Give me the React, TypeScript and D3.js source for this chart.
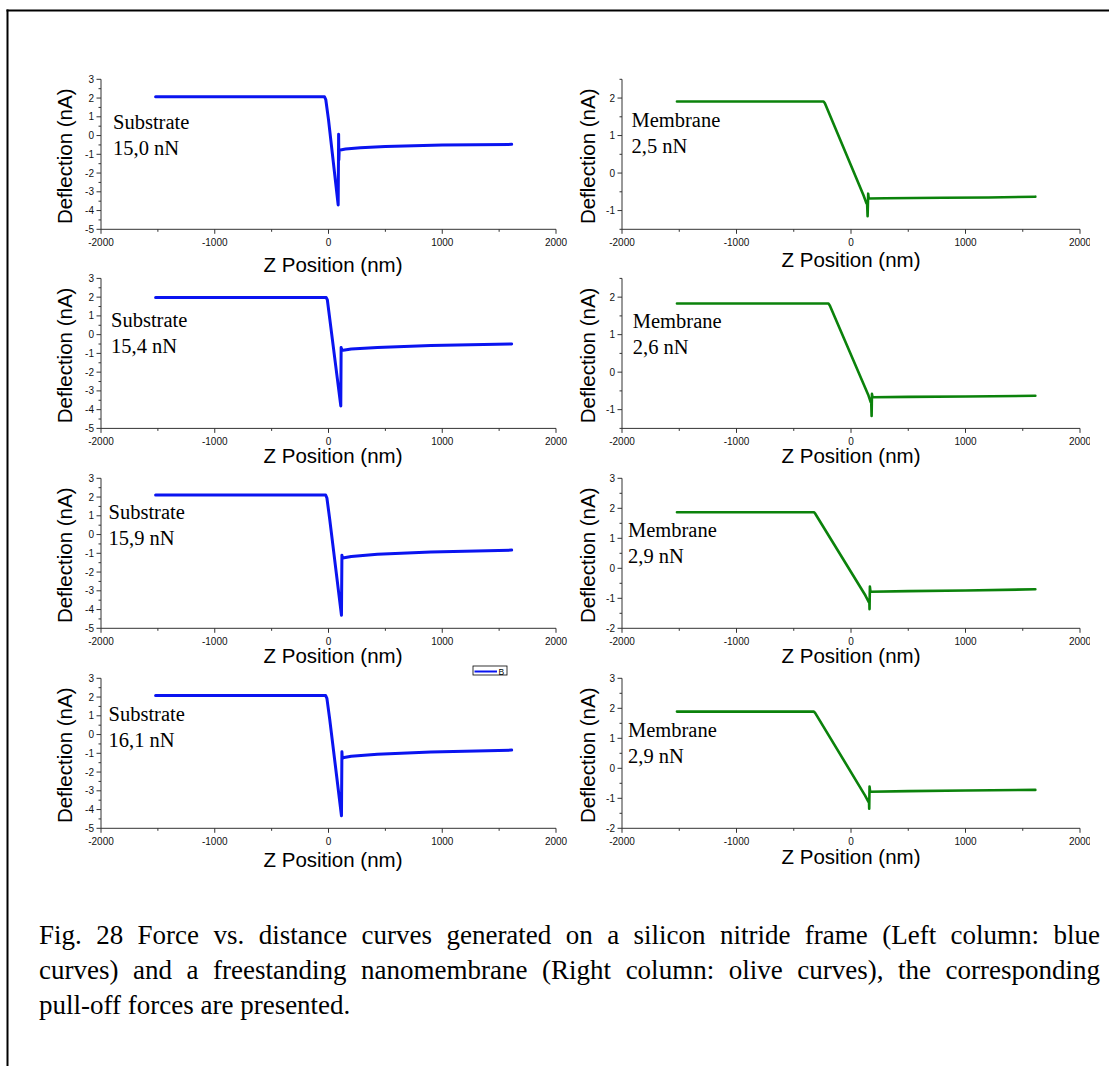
import React, { useLayoutEffect, useRef } from "react";
import * as d3 from "d3";

type Pt = [number, number];

// ---------- data (Z position nm, deflection nA) ----------
const xMajorTicks = [-2000, -1000, 0, 1000, 2000];
const xMinorTicks = [-1500, -500, 500, 1500];
const xDomain: [number, number] = [-2000, 2000];

const substrateYDomain: [number, number] = [-5, 3];
const substrateYTicks = [-5, -4, -3, -2, -1, 0, 1, 2, 3];
const substrateYMinor = [-4.5, -3.5, -2.5, -1.5, -0.5, 0.5, 1.5, 2.5];

const membraneYDomainA: [number, number] = [-1.5, 2.5];
const membraneYTicksA = [-1, 0, 1, 2];
const membraneYMinorA = [-1.5, -0.5, 0.5, 1.5, 2.5];
const membraneYDomainB: [number, number] = [-2, 3];
const membraneYTicksB = [-2, -1, 0, 1, 2, 3];
const membraneYMinorB = [-1.5, -0.5, 0.5, 1.5, 2.5];

const substrateForces = ["15,0 nN", "15,4 nN", "15,9 nN", "16,1 nN"];
const membraneForces = ["2,5 nN", "2,6 nN", "2,9 nN", "2,9 nN"];

const substrate1: Pt[] = [
  [-1520, 2.07], [-600, 2.07], [-35, 2.07], [-24, 1.92], [0, 0.85],
  [85, -3.7], [89, 0.07], [91, -1.3], [94, -0.78], [150, -0.72], [280, -0.65],
  [500, -0.58], [1000, -0.51], [1610, -0.47],
];
const substrate2: Pt[] = [
  [-1520, 1.98], [-600, 1.98], [-20, 1.98], [-10, 1.85], [12, 0.8],
  [108, -3.8], [111, -0.68], [115, -0.85], [200, -0.76], [430, -0.68],
  [900, -0.58], [1610, -0.5],
];
const substrate3: Pt[] = [
  [-1520, 2.11], [-600, 2.11], [-25, 2.11], [-14, 1.95], [10, 0.85],
  [114, -4.31], [118, -1.1], [121, -1.3], [125, -1.25], [200, -1.17],
  [430, -1.05], [900, -0.93], [1610, -0.83],
];
const substrate4: Pt[] = [
  [-1520, 2.08], [-600, 2.08], [-25, 2.08], [-14, 1.93], [10, 0.85],
  [114, -4.33], [118, -0.92], [121, -1.3], [125, -1.24], [200, -1.16],
  [430, -1.05], [900, -0.93], [1610, -0.83],
];

const membrane1: Pt[] = [
  [-1520, 1.91], [-600, 1.91], [-240, 1.91], [-228, 1.86], [110, -0.6],
  [135, -0.81], [140, -0.75], [145, -1.15], [150, -0.55],
  [155, -0.68], [300, -0.67], [800, -0.66], [1200, -0.65], [1610, -0.63],
];
const membrane2: Pt[] = [
  [-1520, 1.83], [-600, 1.83], [-197, 1.83], [-185, 1.78], [150, -0.6],
  [172, -0.8], [176, -0.72], [180, -1.17], [183, -0.58], [188, -0.67],
  [500, -0.66], [1000, -0.65], [1610, -0.63],
];
const membrane3: Pt[] = [
  [-1520, 1.87], [-600, 1.87], [-324, 1.87], [-312, 1.82], [125, -0.9],
  [157, -1.14], [160, -1.05], [162, -1.36], [165, -0.61],
  [170, -0.78], [500, -0.76], [1000, -0.74], [1610, -0.7],
];
const membrane4: Pt[] = [
  [-1520, 1.89], [-600, 1.89], [-324, 1.89], [-312, 1.84], [122, -0.9],
  [154, -1.13], [157, -1.05], [159, -1.35], [162, -0.61],
  [167, -0.78], [500, -0.76], [1000, -0.74], [1610, -0.72],
];

const captionLines = [
  "Fig. 28 Force vs. distance curves generated on a silicon nitride frame (Left column: blue",
  "curves) and a freestanding nanomembrane (Right column: olive curves), the corresponding",
  "pull-off forces are presented.",
];

// ---------- layout ----------
const W = 1109;
const H = 1066;
const rowTops = [79.3, 278.4, 478.3, 678.3];
const rowH = 150;
const leftX: [number, number] = [101, 556];
const rightX: [number, number] = [622, 1080];
const leftTitleY = [272, 463, 662.5, 866.5];
const rightTitleY = [267, 463, 663, 864];
const leftNoteX = [113, 111, 108.5, 108.5];
const leftNoteY = [129, 326.7, 519.3, 721];
const rightNoteX = [631.5, 632.8, 628, 628];
const rightNoteY = [127.3, 328.3, 537.3, 736.7];
const captionX = 39;
const captionRight = 1100;
const captionSize = 27;

const SANS = "'Liberation Sans', Arial, Helvetica, sans-serif";
const SERIF = "'Liberation Serif', 'Times New Roman', Times, serif";
const BLUE = "#0a14f0";
const GREEN = "#0b820b";

interface PanelProps {
  data: Pt[];
  xr: [number, number];
  top: number;
  yDomain: [number, number];
  yTicks: number[];
  yMinor: number[];
  color: string;
  sw: number;
  noteTitle: string;
  noteForce: string;
  noteX: number;
  noteY: number;
  titleY: number;
  titleX: number;
  yTitleX: number;
}

function Panel(p: PanelProps) {
  const x = d3.scaleLinear().domain(xDomain).range(p.xr);
  const y = d3.scaleLinear().domain(p.yDomain).range([p.top + rowH, p.top]);
  const line = d3
    .line<Pt>()
    .x((d) => x(d[0]))
    .y((d) => y(d[1]));
  const x0 = p.xr[0];
  const yb = p.top + rowH;
  const axisColor = "#333";
  const tickFont = 10;
  return (
    <g>
      <line x1={x0} x2={x0} y1={p.top} y2={yb} stroke={axisColor} strokeWidth={1} />
      <line x1={x0} x2={p.xr[1]} y1={yb} y2={yb} stroke={axisColor} strokeWidth={1} />
      {p.yTicks.map((t) => (
        <g key={"yt" + t}>
          <line x1={x0 - 4.5} x2={x0} y1={y(t)} y2={y(t)} stroke={axisColor} strokeWidth={1} />
          <text
            x={x0 - 7}
            y={y(t)}
            dy="0.35em"
            textAnchor="end"
            fontFamily={SANS}
            fontSize={tickFont}
            fill="#111"
          >
            {String(t)}
          </text>
        </g>
      ))}
      {p.yMinor.map((t) => (
        <line key={"ym" + t} x1={x0 - 2.5} x2={x0} y1={y(t)} y2={y(t)} stroke={axisColor} strokeWidth={1} />
      ))}
      {xMajorTicks.map((t) => (
        <g key={"xt" + t}>
          <line x1={x(t)} x2={x(t)} y1={yb} y2={yb + 4.5} stroke={axisColor} strokeWidth={1} />
          <text
            x={x(t)}
            y={yb + 16.5}
            textAnchor="middle"
            fontFamily={SANS}
            fontSize={tickFont}
            fill="#111"
          >
            {String(t)}
          </text>
        </g>
      ))}
      {xMinorTicks.map((t) => (
        <line key={"xm" + t} x1={x(t)} x2={x(t)} y1={yb} y2={yb + 2.5} stroke={axisColor} strokeWidth={1} />
      ))}
      <text
        x={p.titleX}
        y={p.titleY}
        textAnchor="middle"
        fontFamily={SANS}
        fontSize={20.5}
        fill="#000"
      >
        Z Position (nm)
      </text>
      <text
        transform={`translate(${p.yTitleX},${p.top + rowH / 2 + 2}) rotate(-90)`}
        textAnchor="middle"
        dy="0.35em"
        fontFamily={SANS}
        fontSize={20.5}
        fill="#000"
      >
        Deflection (nA)
      </text>
      <text x={p.noteX} y={p.noteY} fontFamily={SERIF} fontSize={20.5} fill="#000">
        {p.noteTitle}
      </text>
      <text x={p.noteX} y={p.noteY + 26} fontFamily={SERIF} fontSize={20.5} fill="#000">
        {p.noteForce}
      </text>
      <path
        d={line(p.data) || ""}
        fill="none"
        stroke={p.color}
        strokeWidth={p.sw}
        strokeLinejoin="round"
        strokeLinecap="round"
      />
    </g>
  );
}

export default function App() {
  const subs = [substrate1, substrate2, substrate3, substrate4];
  const mems = [membrane1, membrane2, membrane3, membrane4];
  const memDomains = [membraneYDomainA, membraneYDomainA, membraneYDomainB, membraneYDomainB];
  const memTicks = [membraneYTicksA, membraneYTicksA, membraneYTicksB, membraneYTicksB];
  const memMinor = [membraneYMinorA, membraneYMinorA, membraneYMinorB, membraneYMinorB];

  const cap1 = useRef<SVGTextElement>(null);
  const cap2 = useRef<SVGTextElement>(null);

  useLayoutEffect(() => {
    [cap1.current, cap2.current].forEach((el, i) => {
      if (!el) return;
      el.setAttribute("word-spacing", "0");
      const natural = el.getComputedTextLength();
      const spaces = (captionLines[i].match(/ /g) || []).length;
      const extra = (captionRight - captionX - natural) / Math.max(1, spaces);
      if (extra >= 0) {
        el.setAttribute("word-spacing", String(extra));
      } else {
        el.setAttribute("textLength", String(captionRight - captionX));
        el.setAttribute("lengthAdjust", "spacingAndGlyphs");
      }
    });
  }, []);

  return (
    <svg
      width={W}
      height={H}
      viewBox={`0 0 ${W} ${H}`}
      style={{ position: "absolute", left: 0, top: 0, background: "#fff" }}
    >
      <rect x={0} y={0} width={W} height={H} fill="#fff" />
      <defs>
        <clipPath id="rightClip">
          <rect x={562} y={0} width={528} height={900} />
        </clipPath>
      </defs>
      <line x1={7.5} x2={7.5} y1={9.5} y2={H} stroke="#000" strokeWidth={2} />
      <line x1={6.5} x2={W} y1={10.5} y2={10.5} stroke="#000" strokeWidth={2} />

      {subs.map((d, i) => (
        <Panel
          key={"s" + i}
          data={d}
          xr={leftX}
          top={rowTops[i]}
          yDomain={substrateYDomain}
          yTicks={substrateYTicks}
          yMinor={substrateYMinor}
          color={BLUE}
          sw={3}
          noteTitle="Substrate"
          noteForce={substrateForces[i]}
          noteX={leftNoteX[i]}
          noteY={leftNoteY[i]}
          titleY={leftTitleY[i]}
          titleX={333}
          yTitleX={65}
        />
      ))}
      <g clipPath="url(#rightClip)">
        {mems.map((d, i) => (
          <Panel
            key={"m" + i}
            data={d}
            xr={rightX}
            top={rowTops[i]}
            yDomain={memDomains[i]}
            yTicks={memTicks[i]}
            yMinor={memMinor[i]}
            color={GREEN}
            sw={2.6}
            noteTitle="Membrane"
            noteForce={membraneForces[i]}
            noteX={rightNoteX[i]}
            noteY={rightNoteY[i]}
            titleY={rightTitleY[i]}
            titleX={851}
            yTitleX={588}
          />
        ))}
      </g>

      <g>
        <rect x={473} y={666} width={34} height={9} fill="#fff" stroke="#000" strokeWidth={0.8} />
        <line x1={474.5} x2={497} y1={671.5} y2={671.5} stroke={BLUE} strokeWidth={2} />
        <text x={498.5} y={674.6} fontFamily={SANS} fontSize={8.5} fill="#000">
          B
        </text>
      </g>

      <text ref={cap1} x={captionX} y={944} fontFamily={SERIF} fontSize={captionSize} fill="#000">
        {captionLines[0]}
      </text>
      <text ref={cap2} x={captionX} y={979} fontFamily={SERIF} fontSize={captionSize} fill="#000">
        {captionLines[1]}
      </text>
      <text x={captionX} y={1014} fontFamily={SERIF} fontSize={captionSize} fill="#000">
        {captionLines[2]}
      </text>
    </svg>
  );
}
